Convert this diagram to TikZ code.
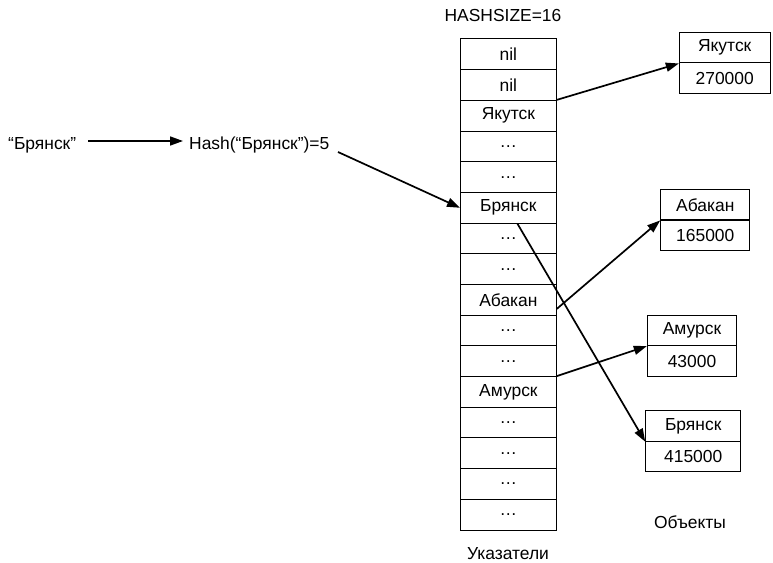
\documentclass[tikz,border=0pt]{standalone}
\usepackage{fontspec}
\setmainfont{Liberation Sans}
\usetikzlibrary{arrows.meta,calc}
\begin{document}
\begin{tikzpicture}[x=1bp,y=-1bp,
  every node/.style={font=\fontsize{17.5}{20}\selectfont, inner sep=0pt},
  cell/.style={draw, line width=1bp, minimum width=95.8bp, minimum height=30.69bp},
  obj/.style={draw, line width=1bp, minimum height=30.5bp},
  link/.style={line width=1.7bp, -{Triangle[length=13bp,width=9bp]}}]
\useasboundingbox (0,0) rectangle (773,563);

% table of pointers
\foreach \t [count=\k from 0] in {nil,nil,Якутск,…,…,Брянск,…,…,Абакан,…,…,Амурск,…,…,…,…}
  \node[cell] (c\k) at (508.4,{39+30.69*(\k+0.5)}) {\t};
\node (hs) at (503,16) {HASHSIZE=16};
\node[anchor=base] (ptr) at (508,559) {Указатели};

% stored objects
\node[obj, minimum width=90.7bp] (yt) at (724.7,47.7) {Якутск};
\node[obj, minimum width=90.7bp] (yb) at (724.7,78) {270000};
\node[obj, minimum width=89.3bp] (at) at (705.3,204.7) {Абакан};
\node[obj, minimum width=89.3bp] (ab) at (705.3,235.3) {165000};
\node[obj, minimum width=89.4bp] (mt) at (692,330.4) {Амурск};
\node[obj, minimum width=89.4bp] (mb) at (692,361.2) {43000};
\node[obj, minimum width=95bp] (bt) at (693.2,425.9) {Брянск};
\node[obj, minimum width=95bp] (bb) at (693.2,456.7) {415000};
\node (objs) at (690,522) {Объекты};

% hashing the key
\node[anchor=base west] (key) at (8,150) {“Брянск”};
\node[anchor=base west] (hash) at (189,150) {Hash(“Брянск”)=5};
\coordinate (k0) at (88,141);
\coordinate (h0) at (183,141);
\coordinate (h1) at (338,152);
\draw[link] (k0) -- (h0);
\draw[link] (h1) -- (c5.west);

% pointers to objects
\draw[link] (c2.north east) -- (yt.south west);
\draw[link] ($(c5.south)+(9,0)$) coordinate (p5) -- (bt.south west);
\draw[link] ($(c8.east)+(0,9)$) coordinate (p8) -- (at.south west);
\draw[link] (c11.north east) -- (mt.south west);
\end{tikzpicture}
\end{document}
